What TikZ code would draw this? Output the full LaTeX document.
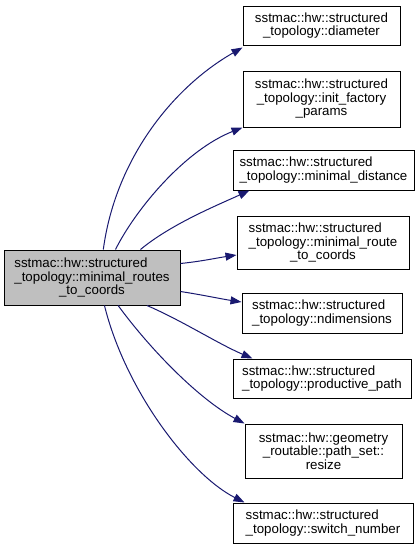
\documentclass[tikz,border=0pt]{standalone}
\usepackage{fontspec}
\setmainfont{Liberation Sans}
\usetikzlibrary{arrows.meta,calc}
\definecolor{edgeblue}{RGB}{25,25,112}
\definecolor{maingray}{RGB}{191,191,191}
\begin{document}
\begin{tikzpicture}[x=1pt,y=-1pt,
  box/.style={draw=black,line width=1pt,fill=white,inner sep=0pt,
    font=\fontsize{13.3}{13.5}\selectfont},
  lbox/.style={box,align=left},
  cbox/.style={box,align=center},
  edge/.style={draw=edgeblue,line width=1pt,-{Triangle[length=11pt,width=8pt]}}]
\useasboundingbox (0,0) rectangle (420,549);

\node[cbox,fill=maingray,minimum width=176pt,minimum height=55pt] (main) at (92,277.5)
  {\begin{tabular}{@{}l@{}}sstmac::hw::structured\\\_topology::minimal\_routes\end{tabular}\\[-1pt]\_to\_coords};

\node[cbox,minimum width=157pt,minimum height=39pt] (d1) at (321.5,25.5)
  {sstmac::hw::structured\\\_topology::diameter};
\node[cbox,minimum width=157pt,minimum height=56pt] (d2) at (321.5,99)
  {sstmac::hw::structured\\\_topology::init\_factory\\\_params};
\node[lbox,minimum width=181pt,minimum height=40pt] (d3) at (323.5,170)
  {sstmac::hw::structured\\\_topology::minimal\_distance};
\node[cbox,minimum width=172pt,minimum height=53pt] (d4) at (323,242.5)
  {\begin{tabular}{@{}l@{}}sstmac::hw::structured\\\_topology::minimal\_route\end{tabular}\\[-1pt]\_to\_coords};
\node[lbox,minimum width=160pt,minimum height=40pt] (d5) at (322,313)
  {sstmac::hw::structured\\\_topology::ndimensions};
\node[lbox,minimum width=178pt,minimum height=39pt] (d6) at (322,378.5)
  {sstmac::hw::structured\\\_topology::productive\_path};
\node[cbox,minimum width=157pt,minimum height=54pt] (d7) at (323.5,451)
  {sstmac::hw::geometry\\\_routable::path\_set::\\resize};
\node[lbox,minimum width=180pt,minimum height=40pt] (d8) at (323,523)
  {sstmac::hw::structured\\\_topology::switch\_number};

\draw[edge] (main.68.2) .. controls +(12,-90) and +(-70,40) .. ($(d1.south west)+(0,2)$);
\draw[edge] (main.50.1) .. controls +(20,-40) and +(-58,23) .. (d2.south west);
\draw[edge] (main.30.9) .. controls +(30,-25) and +(-33,15) .. ($(d3.south west)+(17,0)$);
\draw[edge] (main.9.4) .. controls +(20,-2) and +(-20,3) .. ($(d4.west)+(0,12.5)$);
\draw[edge] (main.-9.4) .. controls +(20,3) and +(-20,-3) .. ($(d5.west)+(0,-11)$);
\draw[edge] (main.-27.4) .. controls +(35,15) and +(-35,-15) .. ($(d6.north west)+(20,0)$);
\draw[edge] (main.-47.7) .. controls +(33,45) and +(-45,-24) .. ($(d7.north west)+(0,0)$);
\draw[edge] (main.-66.4) .. controls +(21,85) and +(-55,-28) .. ($(d8.north west)+(12,0)$);
\end{tikzpicture}
\end{document}
